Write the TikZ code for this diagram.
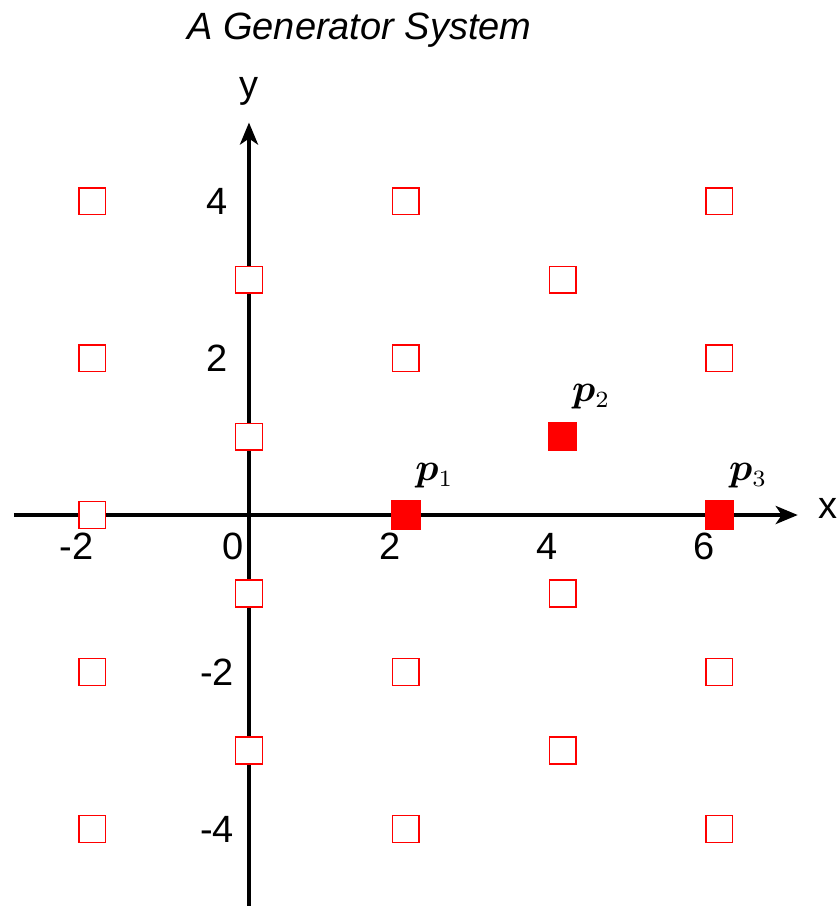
\documentclass[tikz,border=0pt]{standalone}
\usepackage[no-math]{fontspec}
\setmainfont{Liberation Sans}
\usepackage{bm}
\usetikzlibrary{arrows.meta}
\newcommand{\plabtext}[1]{\scalebox{2.9}{$\bm{p}_{\scalebox{0.86}{$\scriptstyle #1$}}$}}
\begin{document}
\begin{tikzpicture}[x=58.8pt,y=58.875pt,
  lbl/.style={font=\fontsize{28.5}{34}\selectfont, inner sep=0pt},
  gen/.style={draw=red, fill=white, line width=1.125pt, minimum size=19.9pt, inner sep=0pt, shape=rectangle},
  ptbox/.style={fill=red, minimum size=22.1pt, inner sep=0pt, shape=rectangle},
  axisline/.style={line width=3pt, -{Stealth[length=16.5pt,width=13.5pt,inset=4.5pt]}},
  plbl/.style={inner sep=0pt, anchor=base west}]
\useasboundingbox (-3.176,-4.981) rectangle (7.513,6.561);
% title
\node[lbl, font=\fontsize{28.5}{34}\selectfont\itshape, anchor=base] (title) at (1.409,6.064) {A Generator System};
% axes
\coordinate (xs) at (-3,0);
\coordinate (xe) at (7,0);
\coordinate (ys) at (0,-5.1);
\coordinate (ye) at (0,5);
\draw[axisline] (xs) -- (xe);
\draw[axisline] (ys) -- (ye);
\node[lbl, anchor=mid] (xlab) at (7.385,0) {x};
\node[lbl, anchor=base] (ylab) at (0,5.325) {y};
% x tick labels
\foreach \v/\t in {-2/-2,0/0,2/2,4/4,6/6}
  \node[lbl, anchor=base] (xt\v) at ({\v-0.198},-0.573) {\t};
% y tick labels
\foreach \v/\t in {4/4,2/2,-2/-2,-4/-4}
  \node[lbl, anchor=base] (yt\v) at (-0.408,{\v-0.178}) {\t};
% generator system (outline squares)
\foreach \gx/\gy [count=\i] in {-2/4,-2/2,-2/0,-2/-2,-2/-4,
    0/3,0/1,0/-1,0/-3,
    2/4,2/2,2/-2,2/-4,
    4/3,4/-1,4/-3,
    6/4,6/2,6/-2,6/-4}
  \node[gen] (g\i) at (\gx,\gy) {};
% points
\node[ptbox] (p1) at (2,0) {};
\node[ptbox] (p2) at (4,1) {};
\node[ptbox] (p3) at (6,0) {};
\node[plbl] (p1lab) at ([shift={(0.12,0.44)}]p1.center) {\plabtext{1}};
\node[plbl] (p2lab) at ([shift={(0.12,0.44)}]p2.center) {\plabtext{2}};
\node[plbl] (p3lab) at ([shift={(0.12,0.44)}]p3.center) {\plabtext{3}};
\end{tikzpicture}
\end{document}
